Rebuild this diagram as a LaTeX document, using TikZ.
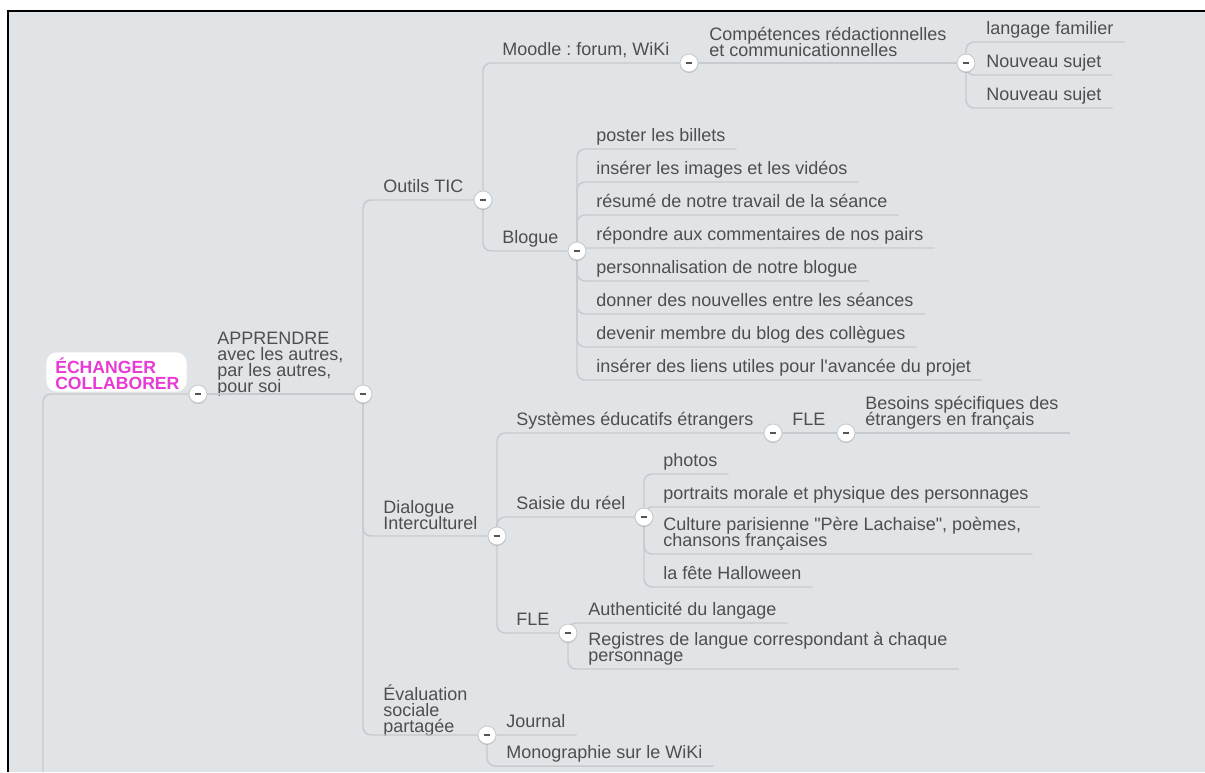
\documentclass[tikz,border=0pt]{standalone}
\usepackage{fontspec}
\setmainfont{Liberation Sans}[Ligatures=TeXOff]
\usetikzlibrary{calc,shadows}
\definecolor{bgc}{RGB}{225,228,231}
\definecolor{linec}{RGB}{198,202,206}
\definecolor{txtc}{RGB}{78,78,78}
\definecolor{rootc}{RGB}{232,58,212}
\definecolor{btnborder}{RGB}{196,199,203}
\definecolor{minusc}{RGB}{85,85,85}
\newcommand{\ml}[1]{\vbox{\baselineskip=12pt\lineskiplimit=-50pt\lineskip=0pt\let\\\cr\halign{##\hfil\cr#1\crcr}}}
\newcommand{\mlroot}[1]{\vbox{\baselineskip=11.6pt\lineskiplimit=-50pt\lineskip=0pt\let\\\cr\halign{##\hfil\cr#1\crcr}}}
\tikzset{
  txt/.style={anchor=base west, inner sep=0pt, text=txtc, font=\fontsize{13.5}{12}\selectfont\frenchspacing},
  conn/.style={draw=linec, line width=1.1pt, rounded corners=6pt},
  btn/.style={circle, fill=white, draw=btnborder, line width=0.6pt, minimum size=13.5pt, inner sep=0pt,
    drop shadow={shadow xshift=0pt, shadow yshift=-0.7pt, opacity=0.18, fill=black},
    path picture={\draw[minusc, line width=1.6pt] ([xshift=-2.6pt]path picture bounding box.center) -- ([xshift=2.6pt]path picture bounding box.center);}},
  rootbox/.style={rounded corners=8pt, fill=white, draw=white!80!gray, line width=0.5pt,
    minimum width=105.75pt, minimum height=30pt, inner sep=0pt},
  roottxt/.style={anchor=base west, inner sep=0pt, text=rootc, font=\fontsize{13.2}{11.6}\selectfont\bfseries},
}
\begin{document}
\begin{tikzpicture}[x=0.75pt, y=-0.75pt]
\useasboundingbox (0,0) rectangle (1205,772);
\fill[white] (0,0) rectangle (1205,772);
\fill[bgc] (8,11) rectangle (1205,772);
\draw[black, line width=1.7pt] (7.85,772) -- (7.85,11.15) -- (1205,11.15);

% button centres
\coordinate (R) at (198,394);
\coordinate (A) at (363,394);
\coordinate (O) at (483,200);
\coordinate (M) at (689,63);
\coordinate (C) at (966,63);
\coordinate (B) at (577,251);
\coordinate (D) at (497,536);
\coordinate (S) at (773,433);
\coordinate (F1) at (846,433);
\coordinate (SR) at (644,517);
\coordinate (F2) at (568,633);
\coordinate (E) at (487,735);
\coordinate (rootdown) at (43,772);

% root
\node[rootbox] (root) at (116.5,372) {};
\node[roottxt] (rootlabel) at (55,389) {\mlroot{ÉCHANGER\\COLLABORER}};

% texts
\node[txt] (tA) at (217,392.5) {\ml{APPRENDRE\\avec les autres,\\par les autres,\\pour soi}};
\node[txt] (tO) at (383,192.5) {Outils TIC};
\node[txt] (tM) at (502,55.5) {Moodle : forum, WiKi};
\node[txt] (tC) at (709,56) {\ml{Compétences rédactionnelles\\et communicationnelles}};
\node[txt] (c1) at (986,34.5) {langage familier};
\node[txt] (c2) at (986,67.5) {Nouveau sujet};
\node[txt] (c3) at (986,100.5) {Nouveau sujet};
\node[txt] (tB) at (502,243.5) {Blogue};
\node[txt] (b1) at (596,141.5) {poster les billets};
\node[txt] (b2) at (596,174.5) {insérer les images et les vidéos};
\node[txt] (b3) at (596,207.5) {résumé de notre travail de la séance};
\node[txt] (b4) at (596,240.5) {répondre aux commentaires de nos pairs};
\node[txt] (b5) at (596,273.5) {personnalisation de notre blogue};
\node[txt] (b6) at (596,306.5) {donner des nouvelles entre les séances};
\node[txt] (b7) at (596,339.5) {devenir membre du blog des collègues};
\node[txt] (b8) at (596,372.5) {insérer des liens utiles pour l'avancée du projet};
\node[txt] (tD) at (383,529) {\ml{Dialogue\\Interculturel}};
\node[txt] (tS) at (516,425.5) {Systèmes éducatifs étrangers};
\node[txt] (tF1) at (792,425.5) {FLE};
\node[txt] (tBes) at (865,425.5) {\ml{Besoins spécifiques des\\étrangers en français}};
\node[txt] (tSR) at (516,509.5) {Saisie du réel};
\node[txt] (s1) at (663,466.5) {photos};
\node[txt] (s2) at (663,499.5) {portraits morale et physique des personnages};
\node[txt] (s3) at (663,546.5) {\ml{Culture parisienne "Père Lachaise", poèmes,\\chansons françaises}};
\node[txt] (s4) at (663,579.5) {la fête Halloween};
\node[txt] (tF2) at (516,625.5) {FLE};
\node[txt] (f1) at (588,615.5) {Authenticité du langage};
\node[txt] (f2) at (588,661.5) {\ml{Registres de langue correspondant à chaque\\personnage}};
\node[txt] (tE) at (383,732.5) {\ml{Évaluation\\sociale\\partagée}};
\node[txt] (e1) at (506,727.5) {Journal};
\node[txt] (e2) at (506,758.5) {Monographie sur le WiKi};

% connectors
\draw[conn] (R) -| (rootdown);
\draw[conn] (R) -- (A);
\draw[conn] (A) |- (O);
\draw[conn] (A) |- (D);
\draw[conn] (A) |- (E);
\draw[conn] (O) |- (M);
\draw[conn] (O) |- (B);
\draw[conn] (M) -- (C);
\foreach \n in {c1,c2,c3} \draw[conn] (C) |- ($(\n.base east)+(11,7.5)$);
\foreach \n in {b1,b2,b3,b4,b5,b6,b7,b8} \draw[conn] (B) |- ($(\n.base east)+(11,7.5)$);
\draw[conn] (D) |- (S);
\draw[conn] (D) |- (SR);
\draw[conn] (D) |- (F2);
\draw[conn] (S) -- (F1);
\draw[conn] (F1) -- ($(tBes.base east)+(11,7.5)$);
\foreach \n in {s1,s2,s3,s4} \draw[conn] (SR) |- ($(\n.base east)+(11,7.5)$);
\foreach \n in {f1,f2} \draw[conn] (F2) |- ($(\n.base east)+(11,7.5)$);
\foreach \n in {e1,e2} \draw[conn] (E) |- ($(\n.base east)+(11,7.5)$);

% buttons
\foreach \b in {R,A,O,M,C,B,D,S,F1,SR,F2,E} \node[btn] (btn\b) at (\b) {};
\end{tikzpicture}
\end{document}
